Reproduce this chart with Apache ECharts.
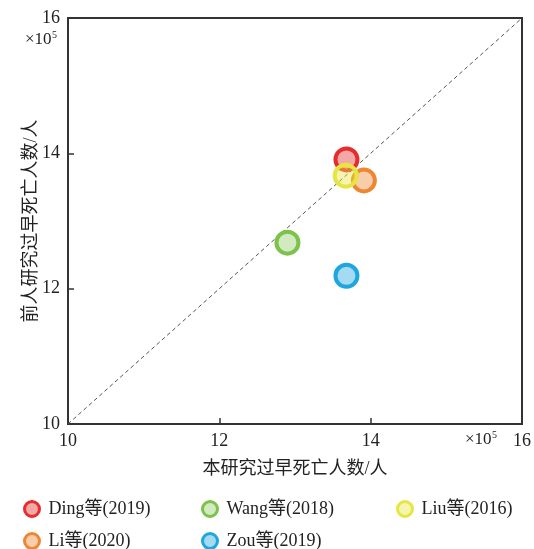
<!DOCTYPE html>
<html>
<head>
<meta charset="utf-8">
<script src="https://cdn.jsdelivr.net/npm/echarts@6/dist/echarts.min.js"></script>
<style>
  html, body { margin: 0; padding: 0; background: #fff; }
  #chart { width: 534px; height: 549px; }
</style>
</head>
<body>
<div id="chart"></div>
<script>
// values in units of 10^5 persons
var studies = ['Ding等(2019)', 'Wang等(2018)', 'Li等(2020)', 'Zou等(2019)', 'Liu等(2016)'];
var thisStudy = [13.68, 12.90, 13.91, 13.68, 13.67];
var previous = [13.91, 12.68, 13.60, 12.19, 13.67];
var lineColors = ['#e52d2d', '#7cc24b', '#ee8732', '#1ea6df', '#e6e642'];
var fillColors = ['rgba(229,45,45,0.42)', 'rgba(124,194,75,0.35)', 'rgba(238,135,50,0.42)', 'rgba(30,166,223,0.4)', 'rgba(230,230,66,0.42)'];
var diagonal = [[10, 10], [16, 16]];
var axisMin = 10, axisMax = 16, axisStep = 2;

var font = "'Liberation Serif', 'Noto Sans CJK SC', serif";
var chart = echarts.init(document.getElementById('chart'));

var series = studies.map(function (name, i) {
    return {
        type: 'scatter',
        name: name,
        data: [[thisStudy[i], previous[i]]],
        symbol: 'circle',
        symbolSize: 22,
        z: 3 + i,
        itemStyle: {
            color: fillColors[i],
            borderColor: lineColors[i],
            borderWidth: 4,
            opacity: 1
        }
    };
});
series.unshift({
    type: 'line',
    data: diagonal,
    showSymbol: false,
    silent: true,
    z: 2,
    lineStyle: { color: '#555', width: 1, type: [4, 3] }
});

// legend layout: 3 columns, 2 rows
var legendOrder = ['Ding等(2019)', 'Wang等(2018)', 'Liu等(2016)', 'Li等(2020)', 'Zou等(2019)'];
var legendPos = [[23, 500], [201, 500], [396, 500], [23, 532], [201, 532]];
var legends = legendOrder.map(function (name, i) {
    return {
        data: [name],
        left: legendPos[i][0],
        top: legendPos[i][1],
        padding: 0,
        itemWidth: 15,
        itemHeight: 15,
        itemGap: 0,
        selectedMode: false,
        itemStyle: { borderWidth: 3 },
        textStyle: { fontFamily: font, fontSize: 18, color: '#222', padding: [0, 0, 0, 4] }
    };
});

chart.setOption({
    animation: false,
    textStyle: { fontFamily: font },
    grid: {
        left: 68, right: 12, top: 18, bottom: 125,
        show: true, borderColor: '#333', borderWidth: 2
    },
    legend: legends,
    xAxis: {
        type: 'value',
        min: axisMin, max: axisMax, interval: axisStep,
        name: '本研究过早死亡人数/人',
        nameLocation: 'middle',
        nameGap: 36,
        nameMoveOverlap: false,
        nameTextStyle: { fontFamily: font, fontSize: 18, color: '#222' },
        axisLine: { show: false },
        axisTick: { show: true, inside: true, length: 6, lineStyle: { color: '#333', width: 1.5 } },
        splitLine: { show: false },
        axisLabel: { fontFamily: font, fontSize: 18, color: '#222', margin: 8 }
    },
    yAxis: {
        type: 'value',
        min: axisMin, max: axisMax, interval: axisStep,
        name: '前人研究过早死亡人数/人',
        nameLocation: 'middle',
        nameGap: 28,
        nameMoveOverlap: false,
        nameTextStyle: { fontFamily: font, fontSize: 18, color: '#222' },
        axisLine: { show: false },
        axisTick: { show: true, inside: true, length: 6, lineStyle: { color: '#333', width: 1.5 } },
        splitLine: { show: false },
        axisLabel: { fontFamily: font, fontSize: 18, color: '#222', margin: 8 }
    },
    graphic: [
        { type: 'text', left: 25, top: 31, style: { text: '×10', font: '17px ' + font, fill: '#222' } },
        { type: 'text', left: 52, top: 30, style: { text: '5', font: '10px ' + font, fill: '#222' } },
        { type: 'text', left: 465, top: 431, style: { text: '×10', font: '17px ' + font, fill: '#222' } },
        { type: 'text', left: 492, top: 430, style: { text: '5', font: '10px ' + font, fill: '#222' } }
    ],
    series: series
});
</script>
</body>
</html>
